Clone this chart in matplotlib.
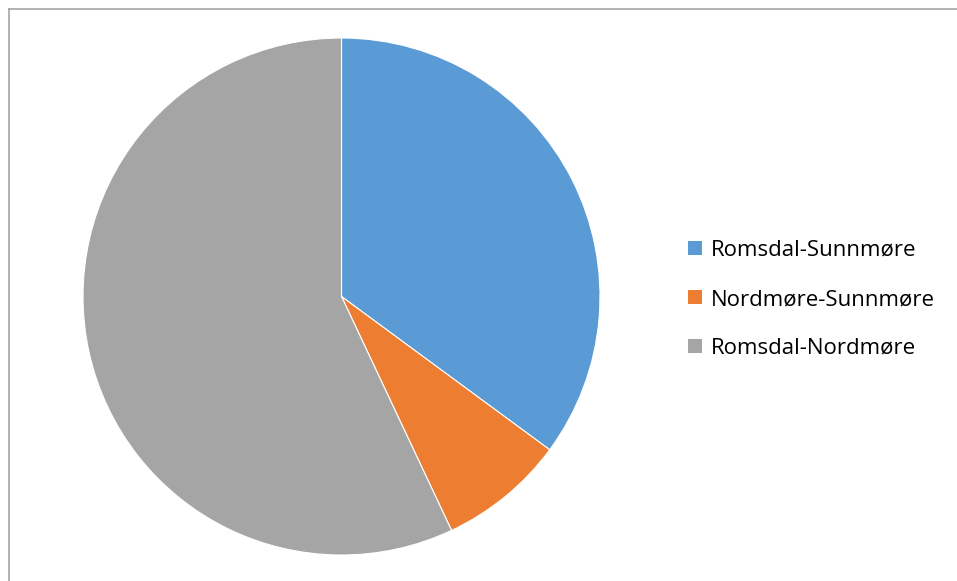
import matplotlib.pyplot as plt
from matplotlib.patches import Patch
from matplotlib.lines import Line2D

### DATA ###
labels = ['Romsdal-Sunnmøre', 'Nordmøre-Sunnmøre', 'Romsdal-Nordmøre']
shares = [35.1, 7.9, 57.0]
colors = ['#5B9BD5', '#ED7D31', '#A5A5A5']

W, H = 957, 581
fig = plt.figure(figsize=(W / 100, H / 100), dpi=100)

# chart area frame, only top and left edges show in the crop
fig.add_artist(Line2D([8.5 / W, 8.5 / W], [0, 1 - 8.5 / H], color='#a6a6a6', lw=1.2))
fig.add_artist(Line2D([8.5 / W, 1], [1 - 8.5 / H, 1 - 8.5 / H], color='#a6a6a6', lw=1.2))

### PIE ###
cx, cy, r = 341.5, 296.5, 258.5
ax = fig.add_axes([(cx - r) / W, (H - cy - r) / H, 2 * r / W, 2 * r / H])
ax.pie(shares, colors=colors, startangle=90, counterclock=False, radius=1,
       wedgeprops=dict(edgecolor='white', linewidth=0.8))
ax.set_xlim(-1, 1)
ax.set_ylim(-1, 1)
ax.axis('off')

### LEGEND ###
handles = [Patch(facecolor=c, edgecolor='none') for c in colors]
fig.legend(handles, labels, loc='center left', bbox_to_anchor=(688 / W, 1 - 299.5 / H),
           frameon=False, handlelength=0.63, handleheight=0.63,
           handletextpad=0.4, labelspacing=1.26, borderpad=0, borderaxespad=0,
           prop={'family': 'Open Sans', 'size': 16})

fig.savefig('out.png', dpi=100)
